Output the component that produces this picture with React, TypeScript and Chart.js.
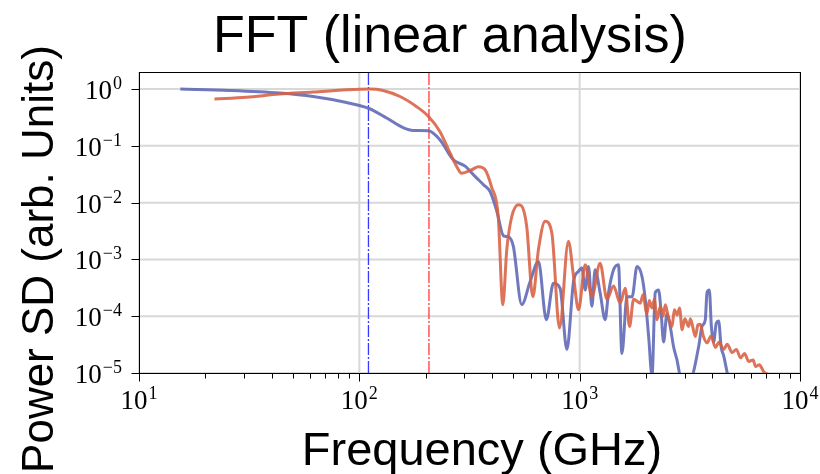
import React, { useEffect, useRef } from "react";
import { Chart, registerables } from "chart.js";
Chart.register(...registerables);

const TITLE = "FFT (linear analysis)";
const X_LABEL = "Frequency (GHz)";
const Y_LABEL = "Power SD (arb. Units)";

const BLUE_FREQ = [15.4, 25.8, 43.5, 61.7, 87.5, 110, 133, 158, 176, 206, 232, 267, 302, 335, 366, 392, 421, 451, 475, 500, 546, 595, 650, 706, 760, 815, 875, 938, 988, 1023, 1060, 1097, 1136, 1175, 1238, 1305, 1352, 1425, 1500, 1555, 1640, 1730, 1820, 1918, 1986, 2056, 2130, 2203, 2280, 2338, 2404, 2489, 2577, 2668, 2765, 2864, 3177, 3467, 3590, 3717, 3784, 3877, 3960, 4055, 4170, 4274, 4385, 4506, 4699];
const BLUE_PSD = [1.0, 0.945, 0.85, 0.74, 0.58, 0.46, 0.31, 0.21, 0.187, 0.184, 0.128, 0.057, 0.044, 0.029, 0.0207, 0.0157, 0.007, 0.0026, 0.0025, 0.0017, 1.6e-4, 4.0e-4, 9.2e-4, 8.7e-5, 3.8e-4, 3.1e-4, 2.6e-5, 4.1e-4, 6.2e-4, 7.1e-4, 2.9e-4, 7.5e-4, 1.5e-4, 6.6e-4, 2.6e-4, 8.7e-5, 2.6e-4, 6.6e-4, 8.1e-4, 2.2e-5, 2.2e-4, 2.2e-4, 7.5e-4, 5.0e-4, 1.95e-4, 4.4e-5, 9e-6, 2.6e-4, 2.9e-4, 1.3e-4, 3.5e-5, 1.1e-4, 6.6e-5, 2.9e-5, 1.7e-5, 9e-6, 8e-6, 2.9e-5, 6.6e-5, 8.7e-5, 2.6e-4, 2.9e-4, 6.6e-5, 3.5e-5, 7.6e-5, 8.2e-5, 2.9e-5, 2e-5, 9e-6];

const RED_FREQ = [22, 30.7, 43.5, 61.7, 87.5, 112, 128, 153, 182, 206, 232, 258, 277, 291, 324, 347, 372, 398, 427, 448, 467, 492, 527, 546, 575, 613, 650, 697, 748, 810, 889, 938, 988, 1060, 1136, 1238, 1330, 1425, 1528, 1610, 1684, 1757, 1884, 1940, 2019, 2070, 2128, 2185, 2243, 2325, 2390, 2448, 2520, 2625, 2690, 2767, 2840, 2917, 3000, 3127, 3180, 3352, 3440, 3530, 3640, 3784, 3950, 4130, 4290, 4506, 4670, 4921, 5140, 5373, 5600, 5853, 6130, 6280, 6540, 6845, 7213];
const RED_PSD = [0.667, 0.72, 0.816, 0.885, 0.97, 1.0, 0.945, 0.74, 0.49, 0.33, 0.18, 0.075, 0.043, 0.033, 0.038, 0.043, 0.038, 0.019, 0.0057, 1.6e-4, 0.0015, 0.0057, 0.0092, 0.0087, 0.0038, 2.2e-4, 0.0015, 0.0047, 0.0029, 6.2e-5, 0.0021, 5.0e-4, 1.3e-4, 8.1e-4, 2.2e-4, 8.6e-4, 2.0e-4, 3.4e-4, 1.7e-4, 3.1e-4, 6.6e-5, 2.0e-4, 1.7e-4, 2.4e-4, 1.1e-4, 1.9e-4, 1.4e-4, 2.0e-4, 8.7e-5, 1.5e-4, 1.0e-4, 1.6e-4, 1.0e-4, 6.6e-5, 1.3e-4, 1.05e-4, 1.4e-4, 5.8e-5, 9e-5, 6.6e-5, 9e-5, 4.4e-5, 7e-5, 7.2e-5, 4.5e-5, 3.4e-5, 4.5e-5, 2.8e-5, 3.5e-5, 2.6e-5, 3.2e-5, 2.3e-5, 2.6e-5, 1.85e-5, 2.2e-5, 1.6e-5, 1.7e-5, 1.3e-5, 1.4e-5, 1.05e-5, 9.3e-6];

const MARKER_BLUE = 110;
const MARKER_RED = 207;

const X_MIN = 10;
const X_MAX = 10000;
const Y_MIN = 1e-5;
const Y_MAX = 2;

const X_TICKS = [10, 100, 1000, 10000];
const X_TICK_EXP = ["1", "2", "3", "4"];
const Y_TICKS = [1, 0.1, 0.01, 0.001, 1e-4, 1e-5];
const Y_TICK_EXP = ["0", "\u22121", "\u22122", "\u22123", "\u22124", "\u22125"];
const X_MINOR = [2, 3, 4, 5, 6, 7, 8, 9];

const BLUE = "rgba(96,106,182,0.9)";
const RED = "rgba(216,96,66,0.88)";

const BASE_FONT = "27px 'Liberation Serif', 'DejaVu Serif', serif";
const SUP_FONT = "18px 'Liberation Serif', 'DejaVu Serif', serif";

function drawPow(ctx: CanvasRenderingContext2D, exp: string, x: number, baseline: number, align: "center" | "right") {
  ctx.font = BASE_FONT;
  const w1 = ctx.measureText("10").width;
  ctx.font = SUP_FONT;
  const w2 = ctx.measureText(exp).width;
  const total = w1 + w2 + 1;
  const start = align === "center" ? x - total / 2 : x - total;
  ctx.textAlign = "left";
  ctx.textBaseline = "alphabetic";
  ctx.font = BASE_FONT;
  ctx.fillText("10", start, baseline);
  ctx.font = SUP_FONT;
  ctx.fillText(exp, start + w1 + 1, baseline - 10);
}

const decor = {
  id: "decor",
  beforeDatasetsDraw(chart: any) {
    const { ctx, chartArea: a, scales } = chart;
    const x = scales.x;
    const y = scales.y;
    ctx.save();
    ctx.strokeStyle = "#d8d8d8";
    ctx.lineWidth = 2;
    for (const v of X_TICKS) {
      const px = x.getPixelForValue(v);
      ctx.beginPath();
      ctx.moveTo(px, a.top);
      ctx.lineTo(px, a.bottom);
      ctx.stroke();
    }
    for (const v of Y_TICKS) {
      const py = y.getPixelForValue(v);
      ctx.beginPath();
      ctx.moveTo(a.left, py);
      ctx.lineTo(a.right, py);
      ctx.stroke();
    }
    ctx.restore();
  },
  afterDraw(chart: any) {
    const { ctx, chartArea: a, scales } = chart;
    const x = scales.x;
    const y = scales.y;
    ctx.save();
    ctx.strokeStyle = "#000";
    ctx.lineWidth = 1;
    ctx.strokeRect(Math.round(a.left) + 0.5, Math.round(a.top) + 0.5, Math.round(a.right - a.left), Math.round(a.bottom - a.top));
    const bottom = Math.round(a.bottom) + 0.5;
    for (let d = 0; d < X_TICKS.length; d++) {
      const v = X_TICKS[d];
      const px = Math.round(x.getPixelForValue(v)) + 0.5;
      ctx.beginPath();
      ctx.moveTo(px, bottom);
      ctx.lineTo(px, bottom + 8);
      ctx.stroke();
      if (d < X_TICKS.length - 1) {
        for (const m of X_MINOR) {
          const mx = Math.round(x.getPixelForValue(v * m)) + 0.5;
          ctx.beginPath();
          ctx.moveTo(mx, bottom);
          ctx.lineTo(mx, bottom + 5);
          ctx.stroke();
        }
      }
    }
    const left = Math.round(a.left) + 0.5;
    for (const v of Y_TICKS) {
      const py = Math.round(y.getPixelForValue(v)) + 0.5;
      ctx.beginPath();
      ctx.moveTo(left, py);
      ctx.lineTo(left - 8, py);
      ctx.stroke();
    }
    ctx.fillStyle = "#000";
    for (let i = 0; i < X_TICKS.length; i++) {
      drawPow(ctx, X_TICK_EXP[i], x.getPixelForValue(X_TICKS[i]), a.bottom + 36, "center");
    }
    for (let i = 0; i < Y_TICKS.length; i++) {
      drawPow(ctx, Y_TICK_EXP[i], a.left - 17, y.getPixelForValue(Y_TICKS[i]) + 10, "right");
    }
    ctx.font = "52px 'Liberation Sans', Arial, sans-serif";
    ctx.textAlign = "center";
    ctx.textBaseline = "alphabetic";
    ctx.fillText(TITLE, 450, 52);
    ctx.font = "47px 'Liberation Sans', Arial, sans-serif";
    ctx.fillText(X_LABEL, 482, 465);
    ctx.translate(53, 259);
    ctx.rotate(-Math.PI / 2);
    ctx.font = "44px 'Liberation Sans', Arial, sans-serif";
    ctx.fillText(Y_LABEL, 0, 0);
    ctx.restore();
  },
};

export default function App() {
  const ref = useRef<HTMLCanvasElement | null>(null);
  useEffect(() => {
    if (!ref.current) return;
    const toPts = (fs: number[], ps: number[]) => fs.map((f, i) => ({ x: f, y: ps[i] }));
    const chart = new Chart(ref.current, {
      type: "line",
      data: {
        datasets: [
          {
            data: toPts(RED_FREQ, RED_PSD),
            borderColor: RED,
            borderWidth: 3,
            pointRadius: 0,
            cubicInterpolationMode: "monotone",
            clip: 0,
          } as any,
          {
            data: toPts(BLUE_FREQ, BLUE_PSD),
            borderColor: BLUE,
            borderWidth: 3,
            pointRadius: 0,
            cubicInterpolationMode: "monotone",
            clip: 0,
          } as any,
          {
            data: [{ x: MARKER_BLUE, y: Y_MIN }, { x: MARKER_BLUE, y: Y_MAX }],
            borderColor: "#3a3aff",
            borderWidth: 1.3,
            borderDash: [12, 2, 2, 2],
            pointRadius: 0,
            clip: 0,
          } as any,
          {
            data: [{ x: MARKER_RED, y: Y_MIN }, { x: MARKER_RED, y: Y_MAX }],
            borderColor: "#ff3a3a",
            borderWidth: 1.3,
            borderDash: [12, 2, 2, 2],
            pointRadius: 0,
            clip: 0,
          } as any,
        ],
      },
      options: {
        animation: false,
        responsive: false,
        devicePixelRatio: 1,
        layout: { padding: { left: 139, top: 72, right: 20, bottom: 101 } },
        plugins: { legend: { display: false }, title: { display: false }, tooltip: { enabled: false } },
        scales: {
          x: { type: "logarithmic", min: X_MIN, max: X_MAX, display: false },
          y: { type: "logarithmic", min: Y_MIN, max: Y_MAX, display: false },
        },
      },
      plugins: [decor],
    });
    return () => chart.destroy();
  }, []);
  return (
    <div style={{ position: "absolute", left: 0, top: 0, width: 820, height: 474, background: "#fff" }}>
      <canvas ref={ref} width={820} height={474} style={{ display: "block" }} />
    </div>
  );
}
